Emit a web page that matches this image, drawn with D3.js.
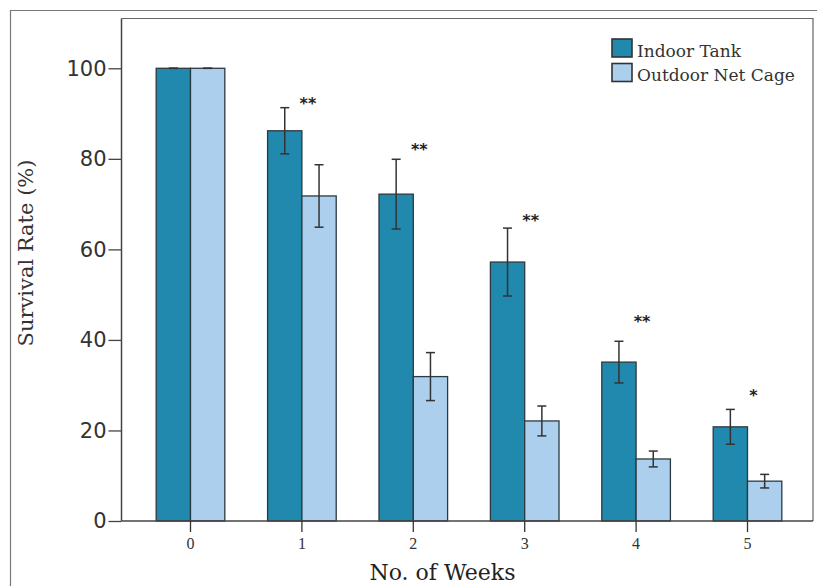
<!DOCTYPE html>
<html>
<head>
<meta charset="utf-8">
<script src="https://cdn.jsdelivr.net/npm/d3@7"></script>
<style>
  html, body { margin: 0; padding: 0; background: #fff; }
  svg { display: block; }
</style>
</head>
<body>
<svg id="chart" width="817" height="586"></svg>
<script>
// ---- data ----
const weeks = ["0", "1", "2", "3", "4", "5"];
const seriesNames = ["Indoor Tank", "Outdoor Net Cage"];
const indoorValues = [100, 86.2, 72.2, 57.2, 35.1, 20.8];
const indoorErrors = [0, 5.1, 7.7, 7.5, 4.6, 3.85];
const outdoorValues = [100, 71.8, 31.9, 22.1, 13.7, 8.8];
const outdoorErrors = [0, 6.9, 5.3, 3.3, 1.75, 1.5];
const significance = ["", "**", "**", "**", "**", "*"];
const significanceLevel = [0, 92.6, 82.4, 66.7, 44.4, 28];
const yTicks = [0, 20, 40, 60, 80, 100];
const yDomainMax = 111;

// ---- layout ----
const svg = d3.select("#chart");
const plot = { left: 121.5, right: 813, top: 18.5, bottom: 521 };
const colors = ["#2189ad", "#abcfed"];

const x = d3.scaleBand().domain(weeks).range([134.8, 803.2]).paddingInner(0.384).paddingOuter(0.192);
const xSub = d3.scaleBand().domain(seriesNames).range([0, x.bandwidth()]);
const y = d3.scaleLinear().domain([0, yDomainMax]).range([plot.bottom, plot.top]);

// outer frame
svg.append("path")
  .attr("d", `M10.5,586 V10.5 H817`)
  .attr("fill", "none").attr("stroke", "#777").attr("stroke-width", 1.2);

// plot frame (top and right)
svg.append("path")
  .attr("d", `M${plot.left},${plot.top} H${plot.right} V${plot.bottom}`)
  .attr("fill", "none").attr("stroke", "#666").attr("stroke-width", 1.2);

const rows = weeks.map((w, i) => ({
  week: w,
  vals: [
    { s: seriesNames[0], v: indoorValues[i], e: indoorErrors[i], c: colors[0] },
    { s: seriesNames[1], v: outdoorValues[i], e: outdoorErrors[i], c: colors[1] }
  ],
  sig: significance[i],
  sigLevel: significanceLevel[i]
}));

const groups = svg.append("g").selectAll("g").data(rows).join("g")
  .attr("transform", d => `translate(${x(d.week)},0)`);

groups.selectAll("rect").data(d => d.vals).join("rect")
  .attr("x", d => xSub(d.s))
  .attr("y", d => y(d.v))
  .attr("width", xSub.bandwidth())
  .attr("height", d => y(0) - y(d.v))
  .attr("fill", d => d.c)
  .attr("stroke", "#2b3a40")
  .attr("stroke-width", 1.3);

// error bars
const errG = groups.selectAll("g.err").data(d => d.vals).join("g").attr("class", "err")
  .attr("stroke", "#333").attr("stroke-width", 1.5);
const cap = 4.5;
errG.append("line")
  .attr("x1", d => xSub(d.s) + xSub.bandwidth() / 2)
  .attr("x2", d => xSub(d.s) + xSub.bandwidth() / 2)
  .attr("y1", d => y(d.v + d.e)).attr("y2", d => y(d.v - d.e));
errG.append("line")
  .attr("x1", d => xSub(d.s) + xSub.bandwidth() / 2 - cap)
  .attr("x2", d => xSub(d.s) + xSub.bandwidth() / 2 + cap)
  .attr("y1", d => y(d.v + d.e)).attr("y2", d => y(d.v + d.e));
errG.append("line")
  .attr("x1", d => xSub(d.s) + xSub.bandwidth() / 2 - cap)
  .attr("x2", d => xSub(d.s) + xSub.bandwidth() / 2 + cap)
  .attr("y1", d => y(d.v - d.e)).attr("y2", d => y(d.v - d.e));

// significance stars
groups.append("text")
  .attr("x", x.bandwidth() / 2 + 6)
  .attr("y", d => y(d.sigLevel) + 7)
  .attr("text-anchor", "middle")
  .attr("font-family", "DejaVu Sans, sans-serif")
  .attr("font-size", 16)
  .attr("font-weight", "bold")
  .attr("fill", "#222")
  .text(d => d.sig);

// y axis
const yAxis = svg.append("g")
  .attr("transform", `translate(${plot.left},0)`)
  .call(d3.axisLeft(y).tickValues(yTicks).tickSize(13).tickPadding(2).tickSizeOuter(0));
yAxis.select(".domain").attr("stroke", "#444").attr("stroke-width", 1.5)
  .attr("d", `M0,${plot.top}V${plot.bottom}`);
yAxis.selectAll(".tick line").attr("stroke", "#444").attr("stroke-width", 1.3);
yAxis.selectAll(".tick text")
  .attr("font-family", "DejaVu Sans, sans-serif")
  .attr("font-size", 21)
  .attr("fill", "#333");

// x axis
const xAxis = svg.append("g")
  .attr("transform", `translate(0,${plot.bottom})`)
  .call(d3.axisBottom(x).tickSize(11).tickPadding(6).tickSizeOuter(0));
xAxis.select(".domain").attr("stroke", "#444").attr("stroke-width", 1.5)
  .attr("d", `M${plot.left},0H${plot.right}`);
xAxis.selectAll(".tick line").attr("stroke", "#333").attr("stroke-width", 1.3);
xAxis.selectAll(".tick text")
  .attr("font-family", "Liberation Serif, serif")
  .attr("font-size", 16)
  .attr("fill", "#333");

// axis titles
svg.append("text")
  .attr("x", 442.5).attr("y", 580)
  .attr("text-anchor", "middle")
  .attr("font-family", "DejaVu Serif, serif")
  .attr("font-size", 22)
  .attr("fill", "#222")
  .text("No. of Weeks");

svg.append("text")
  .attr("transform", "translate(33,253) rotate(-90)")
  .attr("text-anchor", "middle")
  .attr("font-family", "DejaVu Serif, serif")
  .attr("font-size", 21)
  .attr("fill", "#333")
  .text("Survival Rate (%)");

// legend
const legend = svg.append("g").attr("transform", "translate(612,39)");
const li = legend.selectAll("g").data(seriesNames).join("g")
  .attr("transform", (d, i) => `translate(0,${i * 24.5})`);
li.append("rect").attr("width", 20).attr("height", 18)
  .attr("fill", (d, i) => colors[i]).attr("stroke", "#333").attr("stroke-width", 1.6);
li.append("text").attr("x", 25).attr("y", 17.5)
  .attr("font-family", "DejaVu Serif, serif")
  .attr("font-size", 17)
  .attr("fill", "#333")
  .text(d => d);
</script>
</body>
</html>
